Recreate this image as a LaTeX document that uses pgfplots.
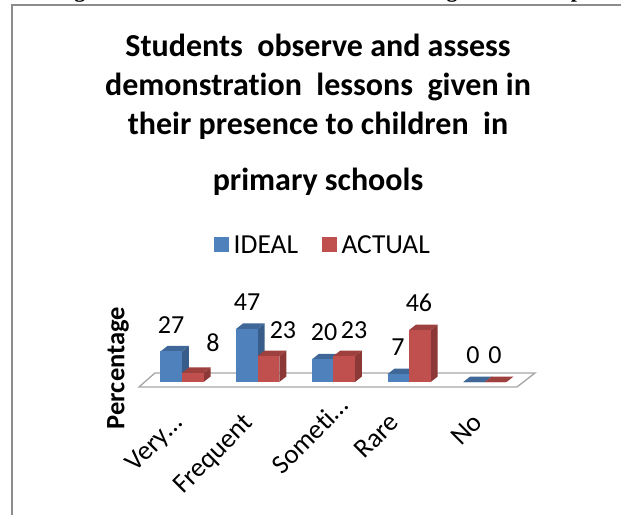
\documentclass[border=0pt]{standalone}
\usepackage{pgfplots}
\usepackage{fontspec}
\setmainfont{Carlito}[Ligatures={NoCommon}]
\newfontfamily\serifbold{Liberation Serif}[BoldFont={Liberation Serif Bold}]
\pgfplotsset{compat=1.18}

\definecolor{ideal}{HTML}{4F81BD}
\definecolor{idealside}{HTML}{385D8A}
\definecolor{idealtop}{HTML}{3F6797}
\definecolor{actual}{HTML}{C0504D}
\definecolor{actualside}{HTML}{8C3836}
\definecolor{actualtop}{HTML}{9E403D}

% one px is 1pt; depth of the fake 3d bars, in data units
\newcommand{\dx}{0.0925}
\newcommand{\dy}{4.87}
\newcommand{\bw}{0.285}
% left edge, value, front, side, top
\newcommand{\threedbar}[5]{%
  \addplot[forget plot,draw=none,fill=#4] coordinates {({#1+\bw},0) ({#1+\bw+\dx},\dy) ({#1+\bw+\dx},{#2+\dy}) ({#1+\bw},#2)} --cycle;
  \addplot[forget plot,draw=none,fill=#5] coordinates {(#1,#2) ({#1+\dx},{#2+\dy}) ({#1+\bw+\dx},{#2+\dy}) ({#1+\bw},#2)} --cycle;
  \addplot[forget plot,draw=none,fill=#3] coordinates {(#1,0) (#1,#2) ({#1+\bw},#2) ({#1+\bw},0)} --cycle;
}

\begin{document}
\begin{tikzpicture}[x=1pt,y=1pt]
\useasboundingbox (-100,-120) rectangle (521,395);
\clip (-100,-120) rectangle (521,395);
% chart frame and the cut-off line of text above it
\draw[gray!90,line width=1.4pt] (-88,-120) -- (-88,390) -- (521,390);
\node[font=\serifbold\bfseries\fontsize{22}{22}\selectfont,anchor=base] at (-20,397) {g};
\node[font=\serifbold\bfseries\fontsize{22}{22}\selectfont,anchor=base] at (352,397) {g};
\node[font=\serifbold\bfseries\fontsize{22}{22}\selectfont,anchor=base] at (477,397) {p};
\begin{axis}[
  at={(0,0)},anchor=south west,
  scale only axis,width=460pt,height=95pt,
  xmin=-1.083,xmax=4.993,ymin=-11.5,ymax=72.57,
  clip=false,
  axis line style={draw=none},
  major tick length=0pt,
  ytick=\empty,
  xtick={0,0.93,1.95,2.86,3.96},
  xticklabels={Very…,Frequent,Someti…\kern-25pt\mbox{},Rare,No},
  xticklabel style={rotate=45,anchor=north east,font=\fontsize{27}{27}\selectfont,inner sep=0pt,xshift=-19.4pt,yshift=-4.6pt},
  every axis y label/.style={at={(rel axis cs:0.039,0.284)},rotate=90,anchor=center},
  ylabel={\fontsize{26.5}{26.5}\selectfont\bfseries Percentage},
  title={Students\ \ observe and assess\\demonstration\ \ lessons\ \ given in\\their presence to children\ \ in\\[17pt]primary schools},
  title style={at={(rel axis cs:0.474,1)},anchor=south,yshift=95pt,align=center,
    font=\fontsize{32}{39}\selectfont\bfseries},
  legend style={at={(rel axis cs:0.485,1)},anchor=center,yshift=55pt,draw=none,fill=none,
    legend columns=2,font=\fontsize{27.5}{27.5}\selectfont,
    /tikz/every even column/.append style={column sep=22pt}},
  legend image code/.code={\fill[#1] (2pt,-6pt) rectangle (16pt,8pt);\path (19pt,0);},
]
% floor
\addplot[forget plot,draw=black!35,line width=1.3pt,fill=white] coordinates {(-0.568,-4.4) (4.425,-4.4) (4.663,8) (-0.357,8)} --cycle;

\threedbar{-0.285}{27}{ideal}{idealside}{idealtop}
\threedbar{0}{8}{actual}{actualside}{actualtop}
\threedbar{0.715}{47}{ideal}{idealside}{idealtop}
\threedbar{1}{23}{actual}{actualside}{actualtop}
\threedbar{1.715}{20}{ideal}{idealside}{idealtop}
\threedbar{2}{23}{actual}{actualside}{actualtop}
\threedbar{2.715}{7}{ideal}{idealside}{idealtop}
\threedbar{3}{46}{actual}{actualside}{actualtop}
\threedbar{3.715}{0}{ideal}{idealside}{idealtop}
\threedbar{4}{0}{actual}{actualside}{actualtop}

\addlegendimage{ideal,fill=ideal}\addlegendentry{IDEAL}
\addlegendimage{actual,fill=actual}\addlegendentry{ACTUAL}

% value labels, placed where the original has them
\addplot[forget plot,draw=none,point meta=explicit symbolic,nodes near coords,
  every node near coord/.style={anchor=center,font=\fontsize{26}{26}\selectfont,inner sep=0pt}]
  table[x=x,y=y,meta=v] {
  x      y     v
  -0.145 50.4  27
  0.410  34.5  8
  0.859  70.8  47
  1.334  46.0  23
  1.876  44.2  20
  2.272  46.0  23
  2.853  31.0  7
  3.130  69.9  46
  3.844  23.9  0
  4.135  23.9  0
};
\end{axis}
\end{tikzpicture}
\end{document}
